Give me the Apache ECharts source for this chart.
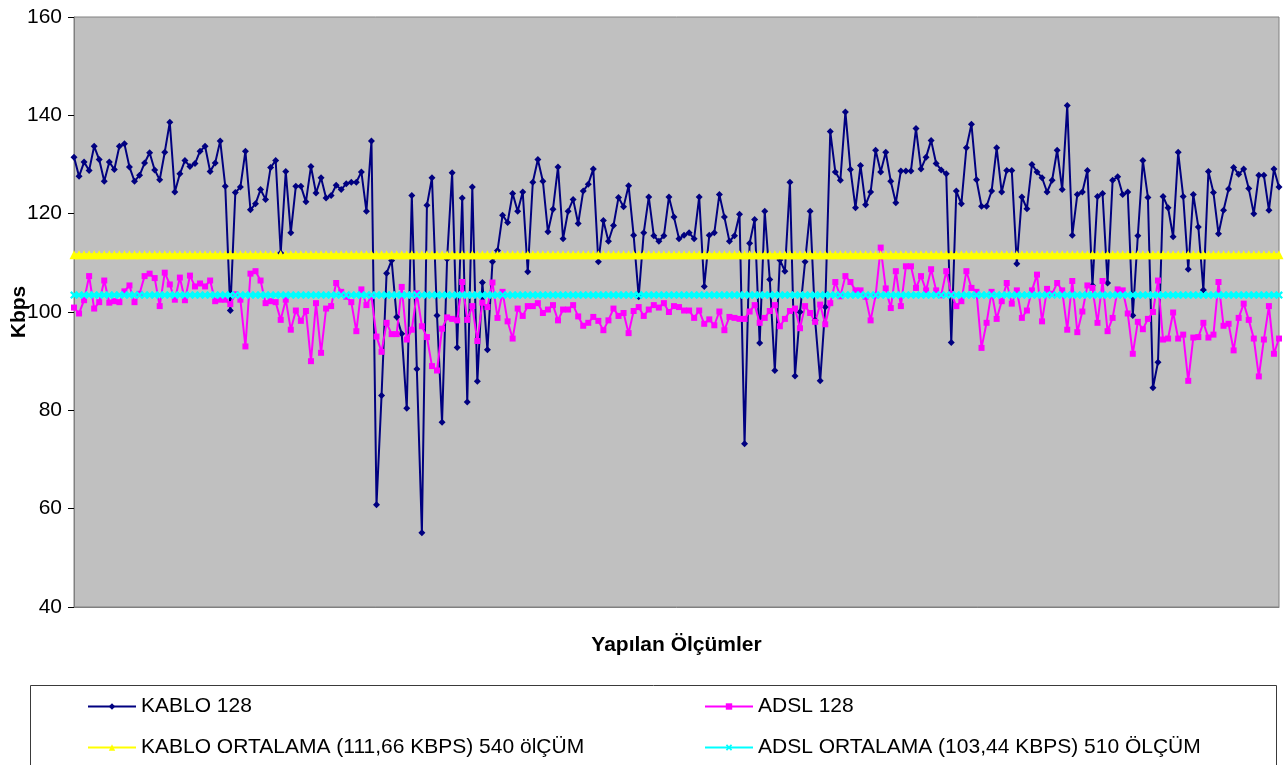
<!DOCTYPE html>
<html>
<head>
<meta charset="utf-8">
<title>KABLO / ADSL 128 Kbps</title>
<script src="https://cdn.jsdelivr.net/npm/echarts@6/dist/echarts.min.js"></script>
<style>
  html, body { margin: 0; padding: 0; background: #ffffff; }
  #chart { width: 1288px; height: 765px; }
</style>
</head>
<body>
<div id="chart"></div>
<script>
// Measured throughput per test run (Kbps)
const kablo128 = [
  131.5, 127.6, 130.5, 128.8, 133.7, 131.0, 126.6, 130.5, 129.0, 133.7,
  134.2, 129.5, 126.6, 127.8, 130.3, 132.4, 128.9, 126.9, 132.5, 138.6,
  124.4, 128.1, 130.8, 129.6, 130.2, 132.7, 133.7, 128.6, 130.3, 134.8,
  125.6, 100.3, 124.3, 125.4, 132.7, 120.8, 122.0, 124.9, 122.9, 129.4,
  130.8, 112.0, 128.6, 116.1, 125.6, 125.6, 122.4, 129.6, 124.2, 127.3,
  123.2, 123.7, 125.8, 124.9, 126.1, 126.4, 126.4, 128.5, 120.5, 134.8,
  60.8, 83.0, 107.9, 110.5, 99.0, 95.6, 80.4, 123.7, 88.4, 55.1,
  121.7, 127.3, 99.3, 77.6, 110.8, 128.3, 92.8, 123.2, 81.7, 125.4,
  85.9, 106.0, 92.3, 110.2, 112.5, 119.7, 118.2, 124.1, 120.5, 124.4,
  108.2, 126.4, 131.0, 126.6, 116.3, 120.9, 129.5, 114.9, 120.5, 122.9,
  118.0, 124.6, 126.0, 129.1, 110.2, 118.6, 114.4, 117.6, 123.3, 121.4,
  125.7, 115.6, 103.1, 116.1, 123.4, 115.5, 114.4, 115.5, 123.4, 119.3,
  114.9, 115.6, 116.1, 114.9, 123.4, 105.2, 115.6, 116.1, 123.9, 119.3,
  114.4, 115.5, 119.9, 73.2, 114.0, 118.8, 93.7, 120.5, 106.6, 88.1,
  110.6, 108.3, 126.4, 87.0, 100.0, 110.2, 120.5, 98.3, 86.0, 101.0,
  136.7, 128.5, 126.8, 140.7, 129.0, 121.2, 129.8, 121.8, 124.4, 132.9,
  128.5, 132.5, 126.6, 122.2, 128.7, 128.7, 128.7, 137.3, 129.1, 131.5,
  134.9, 130.2, 128.9, 128.1, 93.8, 124.6, 122.0, 133.4, 138.2, 126.9,
  121.5, 121.5, 124.6, 133.4, 124.4, 128.8, 128.8, 109.8, 123.4, 121.0,
  130.0, 128.5, 127.3, 124.4, 126.8, 132.9, 124.9, 142.0, 115.6, 123.9,
  124.4, 128.8, 105.4, 123.5, 124.1, 105.9, 126.8, 127.5, 123.9, 124.4,
  99.3, 115.5, 130.8, 123.3, 84.6, 89.8, 123.5, 121.2, 115.3, 132.5,
  123.5, 108.7, 123.9, 117.3, 104.5, 128.6, 124.3, 115.9, 120.7, 125.0,
  129.4, 128.0, 129.1, 125.1, 120.0, 127.8, 127.8, 120.7, 129.1, 125.4
];

const adsl128 = [
  100.9, 99.7, 102.4, 107.3, 100.7, 102.0, 106.4, 101.9, 102.2, 102.0,
  104.2, 105.4, 102.0, 103.7, 107.3, 107.8, 106.9, 101.2, 108.0, 105.6,
  102.5, 107.0, 102.4, 107.4, 105.2, 105.8, 105.2, 106.4, 102.2, 102.5,
  102.5, 101.6, 103.6, 102.5, 93.0, 107.8, 108.3, 106.4, 101.8, 102.2,
  102.0, 98.4, 102.5, 96.4, 100.3, 98.2, 100.2, 90.0, 101.8, 91.7,
  100.7, 101.2, 105.9, 104.1, 103.1, 102.0, 96.1, 104.6, 101.4, 103.2,
  95.0, 91.9, 97.8, 95.5, 95.5, 105.1, 94.4, 96.4, 103.8, 97.1,
  94.9, 89.0, 88.1, 96.6, 98.9, 98.6, 98.3, 106.1, 98.4, 101.2,
  94.1, 101.9, 101.0, 106.0, 98.8, 104.1, 98.1, 94.6, 100.7, 99.2,
  101.2, 101.2, 101.8, 99.8, 100.5, 101.4, 98.3, 100.5, 100.5, 101.4,
  99.1, 97.2, 97.8, 99.0, 98.2, 96.3, 98.3, 100.7, 99.2, 99.8,
  95.7, 100.2, 101.0, 99.2, 100.5, 101.4, 100.9, 101.8, 100.0, 101.2,
  101.0, 100.3, 100.3, 98.8, 100.3, 97.6, 98.5, 97.3, 100.1, 96.3,
  99.0, 98.8, 98.6, 98.6, 100.1, 101.4, 97.8, 98.8, 100.2, 101.4,
  97.1, 98.6, 100.2, 100.7, 96.7, 101.2, 99.8, 98.0, 101.5, 97.5,
  101.8, 106.1, 103.2, 107.3, 106.1, 104.4, 104.4, 103.1, 98.3, 103.4,
  113.1, 104.8, 100.8, 108.3, 101.2, 109.3, 109.3, 104.9, 107.3, 104.4,
  108.7, 104.4, 103.4, 108.3, 103.7, 101.2, 102.2, 108.3, 104.9, 104.1,
  92.7, 97.8, 104.1, 98.6, 102.2, 105.9, 101.7, 104.4, 98.8, 100.3,
  104.4, 107.6, 98.1, 104.7, 103.7, 105.9, 104.4, 96.4, 106.3, 95.9,
  100.1, 105.4, 104.9, 97.8, 106.3, 96.1, 98.8, 104.6, 104.4, 99.7,
  91.5, 98.0, 96.5, 98.6, 100.0, 106.4, 94.4, 94.6, 99.9, 94.6,
  95.4, 86.0, 94.8, 94.9, 97.8, 94.8, 95.4, 106.1, 97.2, 97.6,
  92.2, 98.8, 101.7, 98.4, 94.6, 86.9, 94.4, 101.2, 91.5, 94.6
];

// Overall averages stated in the legend
const kabloAvg = 111.66;
const adslAvg = 103.44;

const seriesNames = [
  'KABLO 128',
  'ADSL 128',
  'KABLO ORTALAMA (111,66 KBPS) 540 ölÇÜM',
  'ADSL ORTALAMA (103,44 KBPS) 510 ÖLÇÜM'
];

const yTicks = { min: 40, max: 160, interval: 20 };

// Measurement numbers along the x axis
const measurements = kablo128.map((_, i) => String(i + 1));
const kabloAvgLine = kablo128.map(() => kabloAvg);
const adslAvgLine = adsl128.map(() => adslAvg);

const FONT = '"Liberation Sans", Arial, sans-serif';
const FONT_SIZE = 21;
const xMark = 'path://M2,0L5,3L8,0L10,2L7,5L10,8L8,10L5,7L2,10L0,8L3,5L0,2Z';

// One legend block per entry, laid out in two columns and two rows
function legendItem(name, left, top) {
  return {
    data: [name],
    left: left, top: top,
    itemWidth: 48, itemHeight: 8,
    padding: 0,
    textStyle: { fontFamily: FONT, fontSize: FONT_SIZE, color: '#000' }
  };
}

const chart = echarts.init(document.getElementById('chart'), null, { renderer: 'canvas' });

chart.setOption({
  animation: false,
  backgroundColor: '#ffffff',
  textStyle: { fontFamily: FONT },
  graphic: [{
    type: 'rect',
    shape: { x: 30.5, y: 685.5, width: 1246, height: 100 },
    style: { fill: '#ffffff', stroke: '#3a3a3a', lineWidth: 1 },
    z: -1
  }],
  grid: {
    left: 74, right: 9, top: 17, bottom: 158,
    outerBoundsMode: 'none',
    containLabel: false,
    show: true,
    backgroundColor: '#C0C0C0',
    borderColor: '#808080',
    borderWidth: 1
  },
  legend: [
    legendItem(seriesNames[0], 87, 696),
    legendItem(seriesNames[2], 87, 737),
    legendItem(seriesNames[1], 704, 696),
    legendItem(seriesNames[3], 704, 737)
  ],
  xAxis: {
    type: 'category',
    data: measurements,
    boundaryGap: false,
    name: 'Yapılan Ölçümler',
    nameLocation: 'middle',
    nameGap: 28,
    nameMoveOverlap: false,
    nameTextStyle: { fontFamily: FONT, fontSize: FONT_SIZE, fontWeight: 'bold', color: '#000' },
    axisLine: { show: true, lineStyle: { color: '#808080', width: 1 } },
    axisTick: { show: false },
    axisLabel: { show: false },
    splitLine: { show: false }
  },
  yAxis: {
    type: 'value',
    min: yTicks.min, max: yTicks.max, interval: yTicks.interval,
    name: 'Kbps',
    nameLocation: 'middle',
    nameGap: 44,
    nameMoveOverlap: false,
    nameTextStyle: { fontFamily: FONT, fontSize: FONT_SIZE, fontWeight: 'bold', color: '#000' },
    axisLine: { show: true, lineStyle: { color: '#808080', width: 1 } },
    axisTick: { show: true, length: 6, lineStyle: { color: '#000' } },
    axisLabel: { fontFamily: FONT, fontSize: FONT_SIZE, color: '#000', margin: 12 },
    splitLine: { show: false }
  },
  series: [{
    name: seriesNames[0],
    type: 'line',
    data: kablo128,
    color: '#000080',
    symbol: 'diamond', symbolSize: 7,
    showAllSymbol: true,
    lineStyle: { color: '#000080', width: 2 },
    itemStyle: { color: '#000080' }
  }, {
    name: seriesNames[1],
    type: 'line',
    data: adsl128,
    color: '#FF00FF',
    symbol: 'rect', symbolSize: 6,
    showAllSymbol: true,
    lineStyle: { color: '#FF00FF', width: 2 },
    itemStyle: { color: '#FF00FF' }
  }, {
    name: seriesNames[2],
    type: 'line',
    data: kabloAvgLine,
    color: '#FFFF00',
    symbol: 'triangle', symbolSize: 9,
    showAllSymbol: true,
    lineStyle: { color: '#FFFF00', width: 3 },
    itemStyle: { color: '#FFFF00' }
  }, {
    name: seriesNames[3],
    type: 'line',
    data: adslAvgLine,
    color: '#00FFFF',
    symbol: xMark, symbolSize: 8,
    showAllSymbol: true,
    lineStyle: { color: '#00FFFF', width: 3 },
    itemStyle: { color: '#00FFFF' }
  }]
});
</script>
</body>
</html>
